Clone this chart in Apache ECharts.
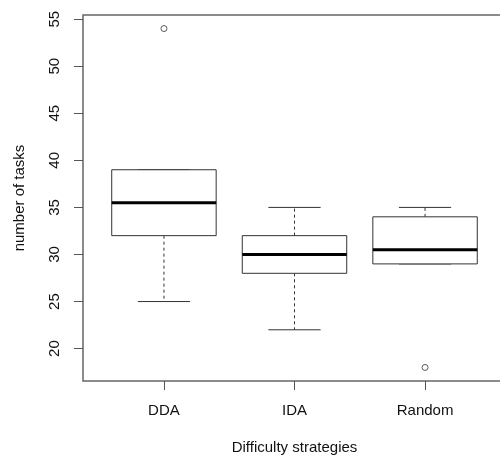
<!DOCTYPE html>
<html>
<head>
<meta charset="utf-8">
<script src="https://cdn.jsdelivr.net/npm/echarts@6/dist/echarts.min.js"></script>
<style>
  html, body { margin: 0; padding: 0; background: #fff; overflow: hidden; }
  #main { width: 520px; height: 455px; }
</style>
</head>
<body>
<div id="main"></div>
<script>
// boxplot stats per difficulty strategy
var categories = ['DDA', 'IDA', 'Random'];
var lowerWhisker = [25, 22, 29];
var q1 = [32, 28, 29];
var median = [35.5, 30, 30.5];
var q3 = [39, 32, 34];
var upperWhisker = [39, 35, 35];
// outliers
var outlierGroup = ['DDA', 'Random'];
var outlierValue = [54, 18];
// y ticks
var yTicks = [20, 25, 30, 35, 40, 45, 50, 55];

var font = 'Liberation Sans, Arial, sans-serif';
var lineColor = '#333';

var boxData = categories.map(function (c, i) {
    return [i + 1, lowerWhisker[i], q1[i], median[i], q3[i], upperWhisker[i]];
});
var outlierData = outlierGroup.map(function (g, i) {
    return [categories.indexOf(g) + 1, outlierValue[i]];
});

var chart = echarts.init(document.getElementById('main'));
var option = {
    animation: false,
    backgroundColor: '#fff',
    textStyle: { fontFamily: font },
    grid: {
        left: 83, top: 15, width: 423, height: 366,
        outerBoundsMode: 'none',
        containLabel: false,
        show: true, borderColor: '#666', borderWidth: 1.5,
        backgroundColor: 'transparent'
    },
    xAxis: {
        type: 'value',
        min: 0.38, max: 3.62,
        axisLine: { show: false },
        splitLine: { show: false },
        axisTick: {
            show: true, customValues: [1, 2, 3], length: 9,
            lineStyle: { color: '#555', width: 1 }
        },
        axisLabel: {
            customValues: [1, 2, 3],
            formatter: function (v) { return categories[Math.round(v) - 1]; },
            margin: 22, fontSize: 15, color: '#111', fontFamily: font
        },
        name: 'Difficulty strategies',
        nameLocation: 'middle',
        nameGap: 59,
        nameTextStyle: { fontSize: 15, color: '#111', fontFamily: font }
    },
    yAxis: {
        type: 'value',
        min: 16.56, max: 55.44,
        axisLine: { show: false },
        splitLine: { show: false },
        axisTick: {
            show: true, customValues: yTicks, length: 9,
            lineStyle: { color: '#555', width: 1 }
        },
        axisLabel: {
            customValues: yTicks,
            rotate: 90,
            margin: 21, fontSize: 15, color: '#111', fontFamily: font
        },
        name: 'number of tasks',
        nameLocation: 'middle',
        nameGap: 56,
        nameTextStyle: { fontSize: 15, color: '#111', fontFamily: font }
    },
    series: [
        {
            type: 'custom',
            data: boxData,
            renderItem: function (params, api) {
                var x = api.value(0);
                var lo = api.value(1), b1 = api.value(2), md = api.value(3),
                    b3 = api.value(4), hi = api.value(5);
                var boxHalf = 0.4, capHalf = 0.2;
                var tl = api.coord([x - boxHalf, b3]);
                var br = api.coord([x + boxHalf, b1]);
                var mL = api.coord([x - boxHalf, md]);
                var mR = api.coord([x + boxHalf, md]);
                var c = api.coord([x, 0])[0];
                var yLo = api.coord([x, lo])[1], yHi = api.coord([x, hi])[1];
                var y1 = br[1], y3 = tl[1];
                var capL = api.coord([x - capHalf, lo])[0];
                var capR = api.coord([x + capHalf, lo])[0];
                var solid = { stroke: lineColor, lineWidth: 1, fill: null };
                var dashed = { stroke: lineColor, lineWidth: 1, lineDash: [3, 3], fill: null };
                return {
                    type: 'group',
                    children: [
                        { type: 'line', shape: { x1: c, y1: y3, x2: c, y2: yHi }, style: dashed },
                        { type: 'line', shape: { x1: c, y1: y1, x2: c, y2: yLo }, style: dashed },
                        { type: 'line', shape: { x1: capL, y1: yHi, x2: capR, y2: yHi }, style: solid },
                        { type: 'line', shape: { x1: capL, y1: yLo, x2: capR, y2: yLo }, style: solid },
                        { type: 'rect', shape: { x: tl[0], y: tl[1], width: br[0] - tl[0], height: br[1] - tl[1] },
                          style: { stroke: lineColor, lineWidth: 1, fill: '#fff' } },
                        { type: 'line', shape: { x1: mL[0], y1: mL[1], x2: mR[0], y2: mR[1] },
                          style: { stroke: '#000', lineWidth: 3 } }
                    ]
                };
            }
        },
        {
            type: 'scatter',
            data: outlierData,
            symbol: 'circle',
            symbolSize: 6,
            itemStyle: { color: '#fff', borderColor: lineColor, borderWidth: 1 }
        }
    ]
};
chart.setOption(option);
</script>
</body>
</html>
